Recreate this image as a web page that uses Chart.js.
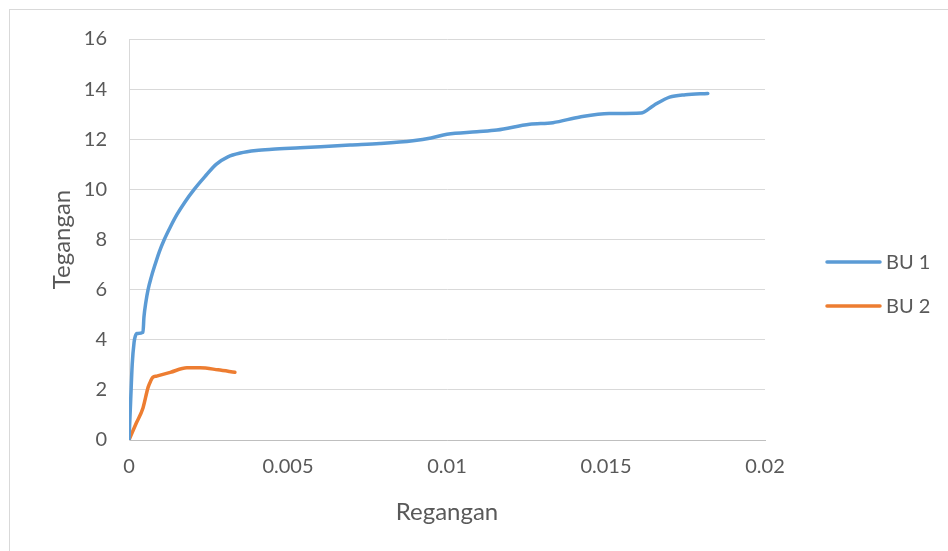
<!DOCTYPE html>
<html>
<head>
<meta charset="utf-8">
<script src="https://cdn.jsdelivr.net/npm/chart.js@4.4.1/dist/chart.umd.min.js"></script>
<style>
  html, body { margin: 0; padding: 0; background: #ffffff; overflow: hidden; }
  #frame { position: absolute; left: 9px; top: 9px; width: 1000px; height: 600px; border: 1px solid #d9d9d9; box-sizing: border-box; }
  #wrap { position: absolute; left: 0; top: 0; width: 948px; height: 551px; }
</style>
</head>
<body>
<div id="frame"></div>
<div id="wrap"><canvas id="c" width="948" height="551"></canvas></div>
<script>
// Strain (Regangan) vs. stress (Tegangan) for two specimens
const bu1Strain = [0, 0.00005, 0.0001, 0.00016, 0.0002, 0.00025, 0.00044, 0.00047, 0.00053, 0.0006, 0.0007, 0.00082, 0.00095, 0.00111, 0.0013, 0.00151, 0.00176, 0.00205, 0.00238, 0.00274, 0.00311, 0.0035, 0.004, 0.0045, 0.00538, 0.00695, 0.00789, 0.00893, 0.0095, 0.01, 0.01094, 0.01157, 0.0126, 0.01333, 0.01418, 0.0151, 0.0161, 0.0165, 0.017, 0.0175, 0.0182];
const bu1Stress = [0, 1.5, 3.0, 3.9, 4.15, 4.25, 4.3, 4.9, 5.5, 6.0, 6.5, 7.0, 7.5, 8.0, 8.5, 9.0, 9.5, 10.0, 10.5, 11.0, 11.3, 11.45, 11.55, 11.6, 11.66, 11.77, 11.83, 11.94, 12.05, 12.2, 12.3, 12.37, 12.6, 12.66, 12.89, 13.03, 13.05, 13.35, 13.68, 13.78, 13.83];

const bu2Strain = [0, 0.00022, 0.00044, 0.0006, 0.00068, 0.00075, 0.00087, 0.0013, 0.00182, 0.00223, 0.0028, 0.00333];
const bu2Stress = [0, 0.65, 1.28, 2.1, 2.35, 2.5, 2.55, 2.7, 2.88, 2.88, 2.8, 2.7];

const seriesNames = ['BU 1', 'BU 2'];
const xTicks = [0, 0.005, 0.01, 0.015, 0.02];
const yTicks = [0, 2, 4, 6, 8, 10, 12, 14, 16];

const toPoints = (xs, ys) => xs.map((x, i) => ({ x: x, y: ys[i] }));

const TEXT = '#595959';
const FONT = 'Lato, "Open Sans", sans-serif';

// Legend drawn to the right of the plot: a short line sample and the series name
const sideKey = {
  id: 'sideKey',
  afterDraw(chart) {
    const ctx = chart.ctx;
    const area = chart.chartArea;
    const x0 = area.right + 62;
    const yStart = 262;
    const gap = 44;
    ctx.save();
    chart.data.datasets.forEach((ds, i) => {
      const y = yStart + i * gap;
      ctx.strokeStyle = ds.borderColor;
      ctx.lineWidth = 3.5;
      ctx.lineCap = 'round';
      ctx.beginPath();
      ctx.moveTo(x0, y);
      ctx.lineTo(x0 + 53, y);
      ctx.stroke();
      ctx.fillStyle = TEXT;
      ctx.font = '20px ' + FONT;
      ctx.textBaseline = 'middle';
      ctx.textAlign = 'left';
      ctx.fillText(ds.label, x0 + 59, y + 1);
    });
    ctx.restore();
  }
};

const lineStyle = {
  showLine: true,
  borderWidth: 3.5,
  pointRadius: 0,
  cubicInterpolationMode: 'monotone',
  borderCapStyle: 'round',
  borderJoinStyle: 'round'
};

new Chart(document.getElementById('c'), {
  type: 'scatter',
  data: {
    datasets: [
      Object.assign({
        label: seriesNames[0],
        data: toPoints(bu1Strain, bu1Stress),
        borderColor: '#5b9bd5',
        backgroundColor: '#5b9bd5'
      }, lineStyle),
      Object.assign({
        label: seriesNames[1],
        data: toPoints(bu2Strain, bu2Stress),
        borderColor: '#ed7d31',
        backgroundColor: '#ed7d31'
      }, lineStyle)
    ]
  },
  options: {
    responsive: false,
    animation: false,
    layout: { padding: { top: 39, right: 183, left: 0, bottom: 0 } },
    plugins: {
      legend: { display: false },
      tooltip: { enabled: false }
    },
    scales: {
      x: {
        type: 'linear',
        min: 0,
        max: 0.02,
        afterBuildTicks(scale) { scale.ticks = xTicks.map(v => ({ value: v })); },
        afterFit(scale) { scale.height = 111; },
        grid: { display: false, drawTicks: false },
        border: { display: true, color: '#bfbfbf', width: 1 },
        ticks: {
          color: TEXT,
          font: { family: FONT, size: 20 },
          padding: 15,
          maxRotation: 0,
          callback: v => String(v)
        },
        title: {
          display: true,
          text: 'Regangan',
          color: TEXT,
          font: { family: FONT, size: 24 },
          padding: { top: 0, bottom: 24.6 }
        }
      },
      y: {
        type: 'linear',
        min: 0,
        max: 16,
        afterBuildTicks(scale) { scale.ticks = yTicks.map(v => ({ value: v })); },
        afterFit(scale) { scale.width = 129; },
        grid: { color: '#d9d9d9', lineWidth: 1, drawTicks: false },
        border: { display: true, color: '#d9d9d9', width: 1 },
        ticks: {
          color: TEXT,
          font: { family: FONT, size: 20 },
          padding: 22,
          callback: v => String(v)
        },
        title: {
          display: true,
          text: 'Tegangan',
          color: TEXT,
          font: { family: FONT, size: 24 },
          padding: { top: 47.6, bottom: 0 }
        }
      }
    }
  },
  plugins: [sideKey]
});
</script>
</body>
</html>
